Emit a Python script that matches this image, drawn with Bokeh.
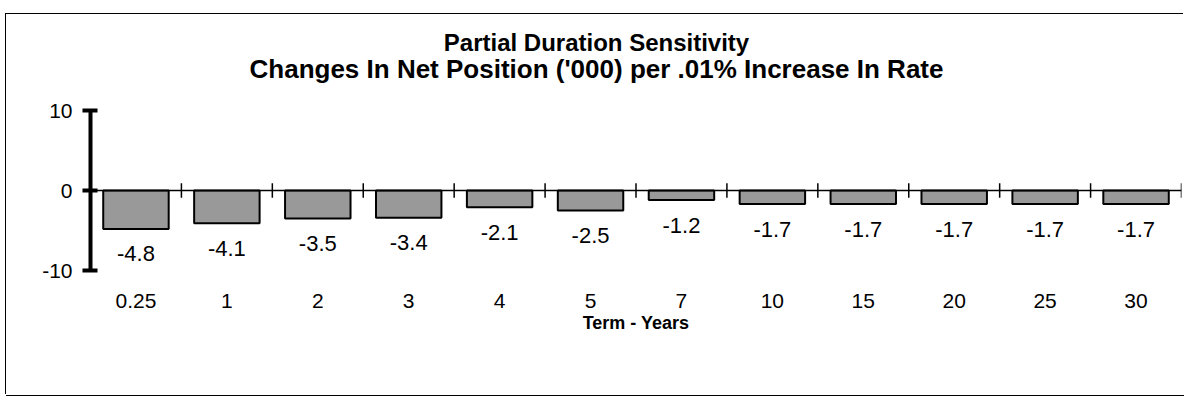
from bokeh.plotting import figure
from bokeh.models import Range1d, FixedTicker, Span, Label, InlineStyleSheet
from bokeh.embed import file_html
from bokeh.resources import INLINE
from bokeh.core.properties import value

# ---- data ----
terms = ["0.25", "1", "2", "3", "4", "5", "7", "10", "15", "20", "25", "30"]
changes = [-4.8, -4.1, -3.5, -3.4, -2.1, -2.5, -1.2, -1.7, -1.7, -1.7, -1.7, -1.7]
y_ticks = [-10, 0, 10]
title_line1 = "Partial Duration Sensitivity"
title_line2 = "Changes In Net Position ('000) per .01% Increase In Rate"
x_title = "Term - Years"

FONT = "Liberation Sans"
n = len(terms)
centers = [i + 0.5 for i in range(n)]
boundaries = [i + 1 for i in range(n)]
value_labels = [f"{v:.1f}" for v in changes]

p = figure(width=1178, height=381, output_backend="svg", toolbar_location=None,
           title=None,
           x_range=Range1d(0, n), y_range=Range1d(-12.25, 22.0),
           min_border_left=84, min_border_right=3, min_border_top=0,
           min_border_bottom=107)
p.outline_line_color = None
p.grid.visible = False
p.background_fill_color = "white"
p.border_fill_color = "white"
p.stylesheets = [InlineStyleSheet(css=(
    ":host { margin: 14px 0 0 6px; "
    "box-shadow: -1px -1px 0 0 #000, 0 1px 0 0 #000; }"))]

# y axis
ya = p.yaxis[0]
ya.ticker = FixedTicker(ticks=y_ticks)
ya.major_label_overrides = {t: str(t) for t in y_ticks}
ya.bounds = (-10, 10)
ya.axis_line_width = 4
ya.axis_line_color = "black"
ya.major_tick_line_width = 4
ya.major_tick_line_color = "black"
ya.major_tick_in = 7
ya.major_tick_out = 8
ya.minor_tick_line_color = None
ya.major_label_standoff = 10
ya.major_label_text_font = FONT
ya.major_label_text_font_size = "21px"
ya.major_label_text_color = "black"

# x axis (category labels only)
xa = p.xaxis[0]
xa.ticker = FixedTicker(ticks=centers)
xa.major_label_overrides = {c: t for c, t in zip(centers, terms)}
xa.axis_line_color = None
xa.major_tick_line_color = None
xa.minor_tick_line_color = None
xa.major_tick_out = 0
xa.major_tick_in = 0
xa.major_label_standoff = 5
xa.major_label_text_font = FONT
xa.major_label_text_font_size = "21px"
xa.major_label_text_color = "black"
xa.axis_label = x_title
xa.axis_label_standoff = 2
xa.axis_label_text_font = FONT
xa.axis_label_text_font_size = "18px"
xa.axis_label_text_font_style = "bold"
xa.axis_label_text_color = "black"

# zero line with category-boundary ticks
p.add_layout(Span(location=0, dimension="width", line_color="black", line_width=1.5))
p.segment(x0=boundaries, x1=boundaries, y0=[-0.9] * n, y1=[0.9] * n,
          line_color="black", line_width=1.5)

# bars
p.vbar(x=centers, top=changes, bottom=0, width=0.72,
       fill_color="#999999", line_color="black", line_width=2)

# value labels
p.text(x=centers, y=changes, text=value_labels, y_offset=25,
       text_align="center", text_baseline="middle",
       text_font=value(FONT), text_font_size="22px", text_color="black")

# titles
p.add_layout(Label(x=506, x_units="screen", y=18.5, text=title_line1,
                   text_align="center", text_baseline="middle",
                   text_font=FONT, text_font_size="24px", text_font_style="bold",
                   text_color="black"))
p.add_layout(Label(x=506, x_units="screen", y=15.25, text=title_line2,
                   text_align="center", text_baseline="middle",
                   text_font=FONT, text_font_size="26px", text_font_style="bold",
                   text_color="black"))

open("out.html", "w").write(file_html(p, INLINE))
